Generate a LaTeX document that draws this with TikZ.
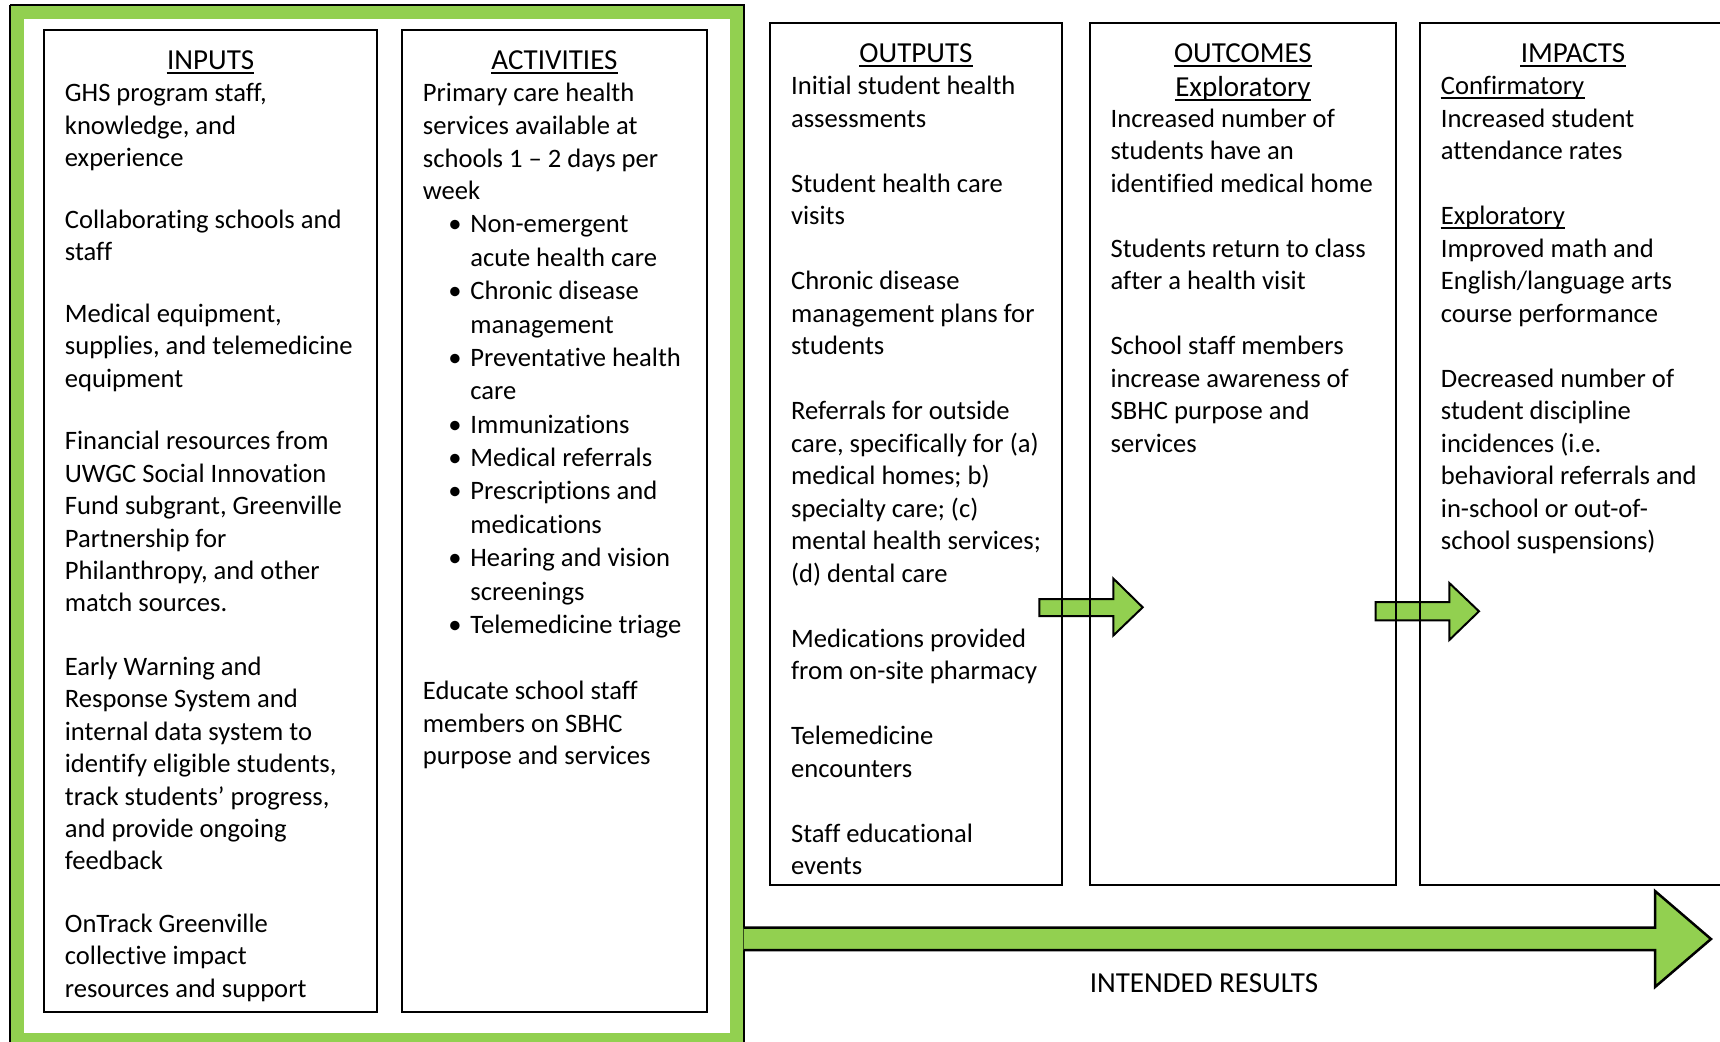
\documentclass[tikz,border=0pt]{standalone}
\usepackage{fontspec}
\setmainfont[Ligatures={NoCommon}]{Carlito}
\definecolor{lgreen}{HTML}{92D050}
\begin{document}
\begin{tikzpicture}[x=0.5pt,y=-0.5pt,
  box/.style={draw=black, line width=1pt},
  para/.style={anchor=north west, inner sep=0pt, align=left, text=black},
  pA/.style={para, font=\fontsize{13.3pt}{16.2pt}\selectfont, yshift=11.34pt},
  pB/.style={para, font=\fontsize{13.3pt}{16.3pt}\selectfont, yshift=11.41pt},
  pL/.style={para, font=\fontsize{13.3pt}{16.69pt}\selectfont, yshift=11.68pt},
  pC/.style={para, font=\fontsize{13.3pt}{16.25pt}\selectfont, yshift=11.375pt},
  head/.style={anchor=base, inner sep=0pt, font=\fontsize{14.5pt}{17pt}\selectfont},
  subl/.style={anchor=base west, inner sep=0pt, font=\fontsize{13.3pt}{16.25pt}\selectfont},
  ul/.style={line width=1pt},
  blockarrow/.style={fill=lgreen, draw=black, line width=1pt, line join=miter}]
\clip (0,0) rectangle (1720,1041);
\fill[white] (0,0) rectangle (1720,1041);

% green frame
\draw[lgreen, line width=7pt] (17,12) rectangle (736.5,1040);
\draw[black, line width=1pt] (10,5) -- (743.5,5) -- (743.5,1050);
\draw[black, line width=1pt] (10,5) -- (10,1050);

% big arrow
\filldraw[blockarrow, line width=1.25pt] (743.5,927.5) -- (1655,927.5) -- (1655,891) -- (1711,939) -- (1655,987) -- (1655,950) -- (743.5,950);
\node[head] (intended) at (1204,992) {INTENDED RESULTS};

% small arrows
\filldraw[blockarrow] (1039.3,599) -- (1113.3,599) -- (1113.3,578.5) -- (1142.7,607.3) -- (1113.3,635.5) -- (1113.3,616) -- (1039.3,616) -- cycle;
\filldraw[blockarrow] (1375.7,602) -- (1449.3,602) -- (1449.3,583) -- (1479,611.3) -- (1449.3,640) -- (1449.3,620.3) -- (1375.7,620.3) -- cycle;

% boxes
\draw[box] (43.5,30) rectangle (376.7,1012);
\draw[box] (401.7,30) rectangle (707.3,1012);
\draw[box] (770,22.5) rectangle (1061.7,885);
\draw[box] (1090,22.5) rectangle (1395.8,885);
\draw[box] (1730,22.5) -- (1419.5,22.5) -- (1419.5,885) -- (1730,885);

% INPUTS
\node[head] (hin) at (210.6,69) {INPUTS};
\draw[ul] ([yshift=-1.8pt]hin.base west) -- ([yshift=-1.8pt]hin.base east);
\node[pA] (in1) at (64.5,101.5) {\strut GHS program staff,\\knowledge, and\\experience};
\node[pA] (in2) at (64.5,228) {\strut Collaborating schools and\\staff};
\node[pA] (in3) at (64.5,322) {\strut Medical equipment,\\supplies, and telemedicine\\equipment};
\node[pA] (in4) at (64.5,449.5) {\strut Financial resources from\\UWGC Social Innovation\\Fund subgrant, Greenville\\Partnership for\\Philanthropy, and other\\match sources.};
\node[pA] (in5) at (64.5,675) {\strut Early Warning and\\Response System and\\internal data system to\\identify eligible students,\\track students’ progress,\\and provide ongoing\\feedback};
\node[pA] (in6) at (64.5,932) {\strut OnTrack Greenville\\collective impact\\resources and support};

% ACTIVITIES
\node[head] (hact) at (554.5,69) {ACTIVITIES};
\draw[ul] ([yshift=-1.8pt]hact.base west) -- ([yshift=-1.8pt]hact.base east);
\node[pB] (act1) at (422.5,101.5) {\strut Primary care health\\services available at\\schools 1 – 2 days per\\week};
\node[pL] (act2) at (448,232.5) {\strut\makebox[11pt][l]{\textbullet}Non-emergent\\
\hspace*{11pt}acute health care\\
\makebox[11pt][l]{\textbullet}Chronic disease\\
\hspace*{11pt}management\\
\makebox[11pt][l]{\textbullet}Preventative health\\
\hspace*{11pt}care\\
\makebox[11pt][l]{\textbullet}Immunizations\\
\makebox[11pt][l]{\textbullet}Medical referrals\\
\makebox[11pt][l]{\textbullet}Prescriptions and\\
\hspace*{11pt}medications\\
\makebox[11pt][l]{\textbullet}Hearing and vision\\
\hspace*{11pt}screenings\\
\makebox[11pt][l]{\textbullet}Telemedicine triage};
\node[pC] (act3) at (422.5,699.5) {\strut Educate school staff\\members on SBHC\\purpose and services};

% OUTPUTS
\node[head] (hout) at (915.9,62.3) {OUTPUTS};
\draw[ul] ([yshift=-1.8pt]hout.base west) -- ([yshift=-1.8pt]hout.base east);
\node[pC] (out1) at (790.7,94.5) {\strut Initial student health\\assessments};
\node[pC] (out2) at (790.7,192) {\strut Student health care\\visits};
\node[pC] (out3) at (790.7,289.5) {\strut Chronic disease\\management plans for\\students};
\node[pC] (out4) at (790.7,419.5) {\strut Referrals for outside\\care, specifically for (a)\\medical homes; b)\\specialty care; (c)\\mental health services;\\(d) dental care};
\node[pC] (out5) at (790.7,647) {\strut Medications provided\\from on-site pharmacy};
\node[pC] (out6) at (790.7,744.5) {\strut Telemedicine\\encounters};
\node[pC] (out7) at (790.7,842) {\strut Staff educational\\events};

% OUTCOMES
\node[head] (hoc) at (1242.9,62.3) {OUTCOMES};
\draw[ul] ([yshift=-1.8pt]hoc.base west) -- ([yshift=-1.8pt]hoc.base east);
\node[head] (ocx) at (1242.9,96) {Exploratory};
\draw[ul] ([yshift=-1.8pt]ocx.base west) -- ([yshift=-1.8pt]ocx.base east);
\node[pC] (oc1) at (1110.2,127) {\strut Increased number of\\students have an\\identified medical home};
\node[pC] (oc2) at (1110.2,257) {\strut Students return to class\\after a health visit};
\node[pC] (oc3) at (1110.2,354.5) {\strut School staff members\\increase awareness of\\SBHC purpose and\\services};

% IMPACTS
\node[head] (him) at (1573,62.3) {IMPACTS};
\draw[ul] ([yshift=-1.8pt]him.base west) -- ([yshift=-1.8pt]him.base east);
\node[subl] (imc) at (1440.5,94.5) {Confirmatory};
\draw[ul] ([yshift=-1.5pt]imc.base west) -- ([yshift=-1.5pt]imc.base east);
\node[pC] (im1) at (1440.5,127) {\strut Increased student\\attendance rates};
\node[subl] (imx) at (1440.5,224.5) {Exploratory};
\draw[ul] ([yshift=-1.5pt]imx.base west) -- ([yshift=-1.5pt]imx.base east);
\node[pC] (im2) at (1440.5,257) {\strut Improved math and\\English/language arts\\course performance};
\node[pC] (im3) at (1440.5,387) {\strut Decreased number of\\student discipline\\incidences (i.e.\\behavioral referrals and\\in-school or out-of-\\school suspensions)};
\end{tikzpicture}
\end{document}
